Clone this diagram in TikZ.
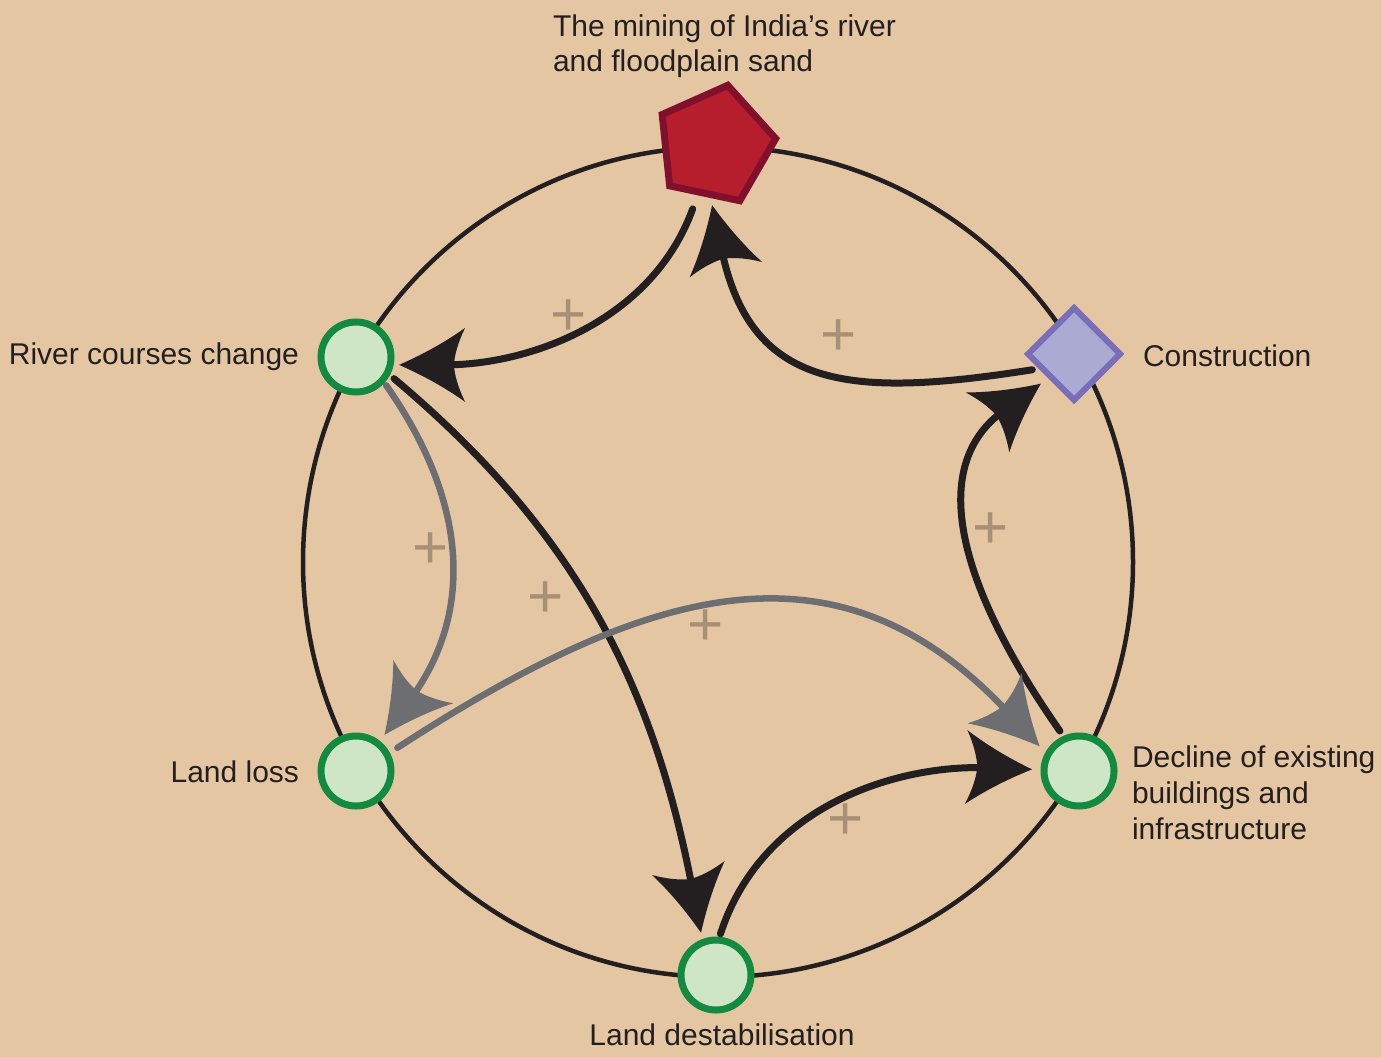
\documentclass[tikz,border=0pt]{standalone}
\usepackage{fontspec}
\setmainfont{Liberation Sans}
\usetikzlibrary{arrows.meta,shapes.geometric}

\definecolor{paper}{RGB}{229,198,162}
\definecolor{ink}{RGB}{35,31,32}
\definecolor{slate}{RGB}{109,110,114}
\definecolor{plusc}{RGB}{168,144,118}
\definecolor{leaf}{RGB}{206,230,198}
\definecolor{leafring}{RGB}{18,138,64}
\definecolor{sandred}{RGB}{183,30,45}
\definecolor{sandedge}{RGB}{128,16,44}
\definecolor{lilac}{RGB}{170,170,210}
\definecolor{lilacedge}{RGB}{120,110,185}

% Arrow head with swept, slightly concave wings
\pgfdeclarearrow{
  name = Swept,
  parameters = {\the\pgfarrowlength,\the\pgfarrowwidth},
  setup code = {
    \pgfarrowssettipend{0pt}
    \pgfarrowssetbackend{-\pgfarrowlength}
    \pgfarrowssetlineend{-0.7\pgfarrowlength}
    \pgfarrowssavethe\pgfarrowlength
    \pgfarrowssavethe\pgfarrowwidth
  },
  drawing code = {
    \pgfpathmoveto{\pgfpoint{0pt}{0pt}}
    \pgfpathcurveto{\pgfpoint{-0.33\pgfarrowlength}{0.13\pgfarrowwidth}}{\pgfpoint{-0.67\pgfarrowlength}{0.29\pgfarrowwidth}}{\pgfpoint{-\pgfarrowlength}{0.5\pgfarrowwidth}}
    \pgfpathcurveto{\pgfpoint{-0.9\pgfarrowlength}{0.32\pgfarrowwidth}}{\pgfpoint{-0.84\pgfarrowlength}{0.14\pgfarrowwidth}}{\pgfpoint{-0.83\pgfarrowlength}{0pt}}
    \pgfpathcurveto{\pgfpoint{-0.84\pgfarrowlength}{-0.14\pgfarrowwidth}}{\pgfpoint{-0.9\pgfarrowlength}{-0.32\pgfarrowwidth}}{\pgfpoint{-\pgfarrowlength}{-0.5\pgfarrowwidth}}
    \pgfpathcurveto{\pgfpoint{-0.67\pgfarrowlength}{-0.29\pgfarrowwidth}}{\pgfpoint{-0.33\pgfarrowlength}{-0.13\pgfarrowwidth}}{\pgfpoint{0pt}{0pt}}
    \pgfpathclose
    \pgfusepathqfill
  },
  defaults = {length = 66pt, width = 74pt}
}

\begin{document}
\begin{tikzpicture}[x=1pt,y=-1pt,
  every node/.style={inner sep=0pt, outer sep=0pt},
  lbl/.style={font=\fontsize{30}{35}\selectfont, text=ink},
  gain/.style={font=\fontsize{62}{62}\selectfont, text=plusc},
  state/.style={circle, draw=leafring, fill=leaf, line width=7pt, minimum size=70pt},
  link/.style={draw=ink, line width=7pt, line cap=round, -{Swept}},
  glink/.style={link, draw=slate, line width=6.5pt},
]
\useasboundingbox (0,0) rectangle (1381,1057);
\fill[paper] (0,0) rectangle (1381,1057);

% the loop ring
\coordinate (ctr) at (718,562);
\draw[ink, line width=4.5pt] (ctr) circle[radius=415];

% elements of the loop
\node[regular polygon, regular polygon sides=5, minimum size=122pt,
      shape border rotate=-12, draw=sandedge, fill=sandred, line width=7pt,
      line join=miter] (mine) at (715,145) {};
\node[diamond, aspect=1, minimum width=92pt, minimum height=92pt,
      draw=lilacedge, fill=lilac, line width=6pt] (cons) at (1074,354) {};
\node[state] (riv)  at (356,357) {};
\node[state] (loss) at (356,771) {};
\node[state] (des)  at (716,975) {};
\node[state] (dec)  at (1079,771) {};

% labels
\node[lbl, anchor=north west, align=left] (t-mine) at (553,15)
  {The mining of India’s river\\and floodplain sand};
\node[lbl, anchor=base east] (t-riv) at (299,364) {River courses change};
\node[lbl, anchor=base west] (t-cons) at (1143,366) {Construction};
\node[lbl, anchor=base east] (t-loss) at (299,782) {Land loss};
\node[lbl, anchor=north west, align=left,
      font=\fontsize{30}{36}\selectfont] (t-dec) at (1132,746)
  {Decline of existing\\buildings and\\infrastructure};
\node[lbl, anchor=base] (t-des) at (722,1045) {Land destabilisation};

% causal links
\draw[link, shorten <=18pt, shorten >=9pt]
  (mine.-109) to[out=-110, in=0, looseness=1.0] (riv.-13);
\draw[link, shorten <=10pt, shorten >=11pt]
  (cons.-156) to[out=189, in=-78, looseness=1.35] (mine.-96);
\draw[link, shorten <=9pt, shorten >=10pt]
  (riv.-27) to[out=-40, in=101] (des.112);
\draw[link, shorten <=6.5pt, shorten >=12pt]
  (des.86) to[out=72, in=178] (dec.178);
\draw[link, shorten <=9.5pt, shorten >=12pt]
  (dec.113) to[out=125, in=-144, looseness=1.15] (cons.-136);
\draw[glink, shorten <=6.5pt, shorten >=11pt]
  (riv.-41) to[out=-55, in=54, looseness=1.1] (loss.51);
\draw[glink, shorten <=12.5pt, shorten >=12pt]
  (loss.28) to[out=33, in=133, looseness=1.2] (dec.153);

% link polarities
\node[gain] (g1) at (569,318) {+};
\node[gain] (g2) at (839,338) {+};
\node[gain] (g3) at (431,551) {+};
\node[gain] (g4) at (546,600) {+};
\node[gain] (g5) at (706,628) {+};
\node[gain] (g6) at (991,531) {+};
\node[gain] (g7) at (846,822) {+};
\end{tikzpicture}
\end{document}
